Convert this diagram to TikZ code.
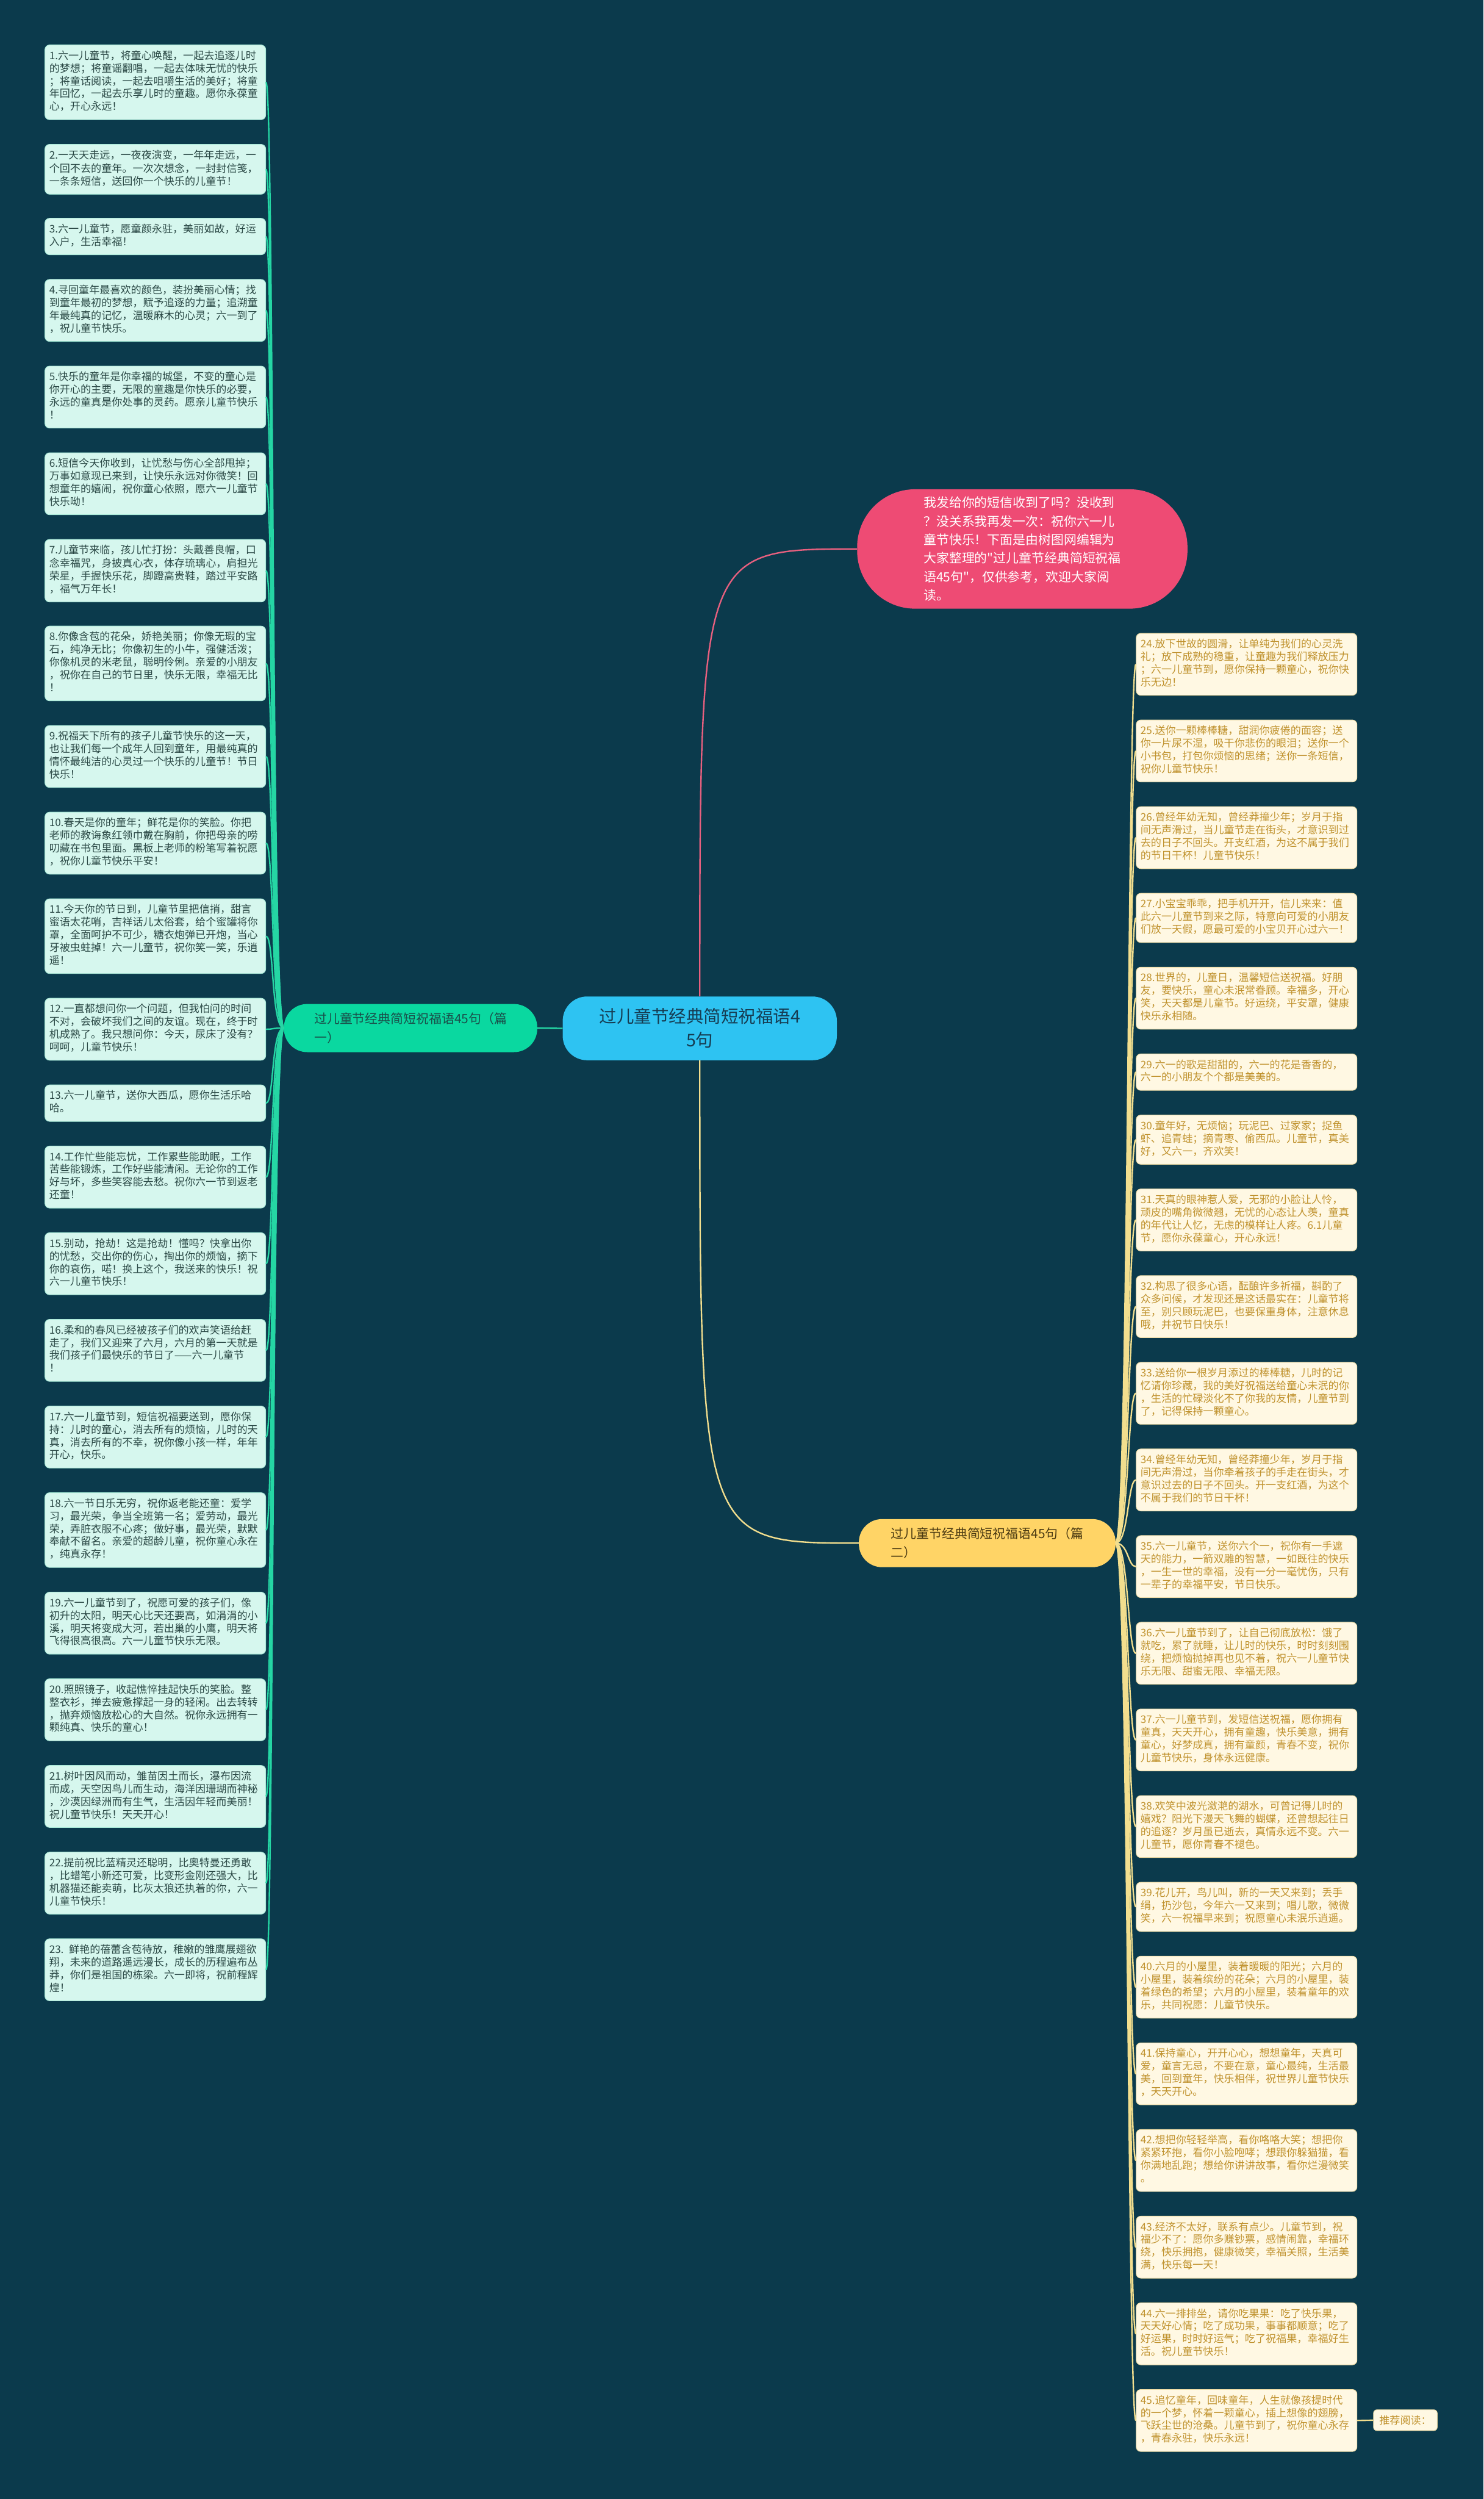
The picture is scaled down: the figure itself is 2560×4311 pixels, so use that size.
\documentclass[tikz,border=0pt]{standalone}
\usepackage{fontspec}
\usepackage{xcolor}
\usepackage{tikz}
\newfontfamily\cjk{Noto Sans CJK SC}
\definecolor{bgcol}{HTML}{0B3A4C}
\definecolor{hubfill}{HTML}{2EC3F2}
\definecolor{hubtext}{HTML}{163C52}
\definecolor{notefill}{HTML}{EE4B74}
\definecolor{notecon}{HTML}{E8607F}
\definecolor{greenfill}{HTML}{0AD8A0}
\definecolor{greentext}{HTML}{1A4F4A}
\definecolor{greencon}{HTML}{25D6A4}
\definecolor{yellowfill}{HTML}{FFD466}
\definecolor{yellowtext}{HTML}{4B3A12}
\definecolor{yellowcon}{HTML}{F2DE8E}
\definecolor{lboxfill}{HTML}{D6F7EE}
\definecolor{lboxline}{HTML}{A6E8D6}
\definecolor{lboxtext}{HTML}{2A4845}
\definecolor{rboxfill}{HTML}{FFF8E3}
\definecolor{rboxline}{HTML}{EEDCA6}
\definecolor{rboxtext}{HTML}{C0922E}

\begin{document}
\begin{tikzpicture}[x=1pt, y=-1pt,
  lbox/.style={anchor=north west, draw=lboxline, fill=lboxfill, line width=1pt,
    rounded corners=8pt, text width=366pt, inner xsep=7.5pt, inner ysep=9.5pt,
    align=left, text=lboxtext, font=\cjk\fontsize{18}{22}\selectfont,
    execute at begin node=\strut, execute at end node=\strut},
  rbox/.style={lbox, draw=rboxline, fill=rboxfill, text=rboxtext},
  hub/.style={fill=hubfill, rounded corners=42pt, minimum width=473pt,
    minimum height=110pt, inner sep=0pt, align=center, text=hubtext,
    font=\cjk\fontsize{30}{41}\selectfont},
  sectionl/.style={fill=greenfill, rounded corners=40pt, minimum width=437pt,
    minimum height=83pt, inner sep=0pt, align=left, text=greentext,
    font=\cjk\fontsize{22}{33}\selectfont},
  sectionr/.style={sectionl, fill=yellowfill, text=yellowtext, minimum width=443pt},
  note/.style={fill=notefill, rounded corners=100pt, minimum width=570pt,
    minimum height=206pt, inner sep=0pt, align=left, text=white,
    font=\cjk\fontsize{22}{32}\selectfont},
  readbox/.style={fill=rboxfill, draw=rboxline, line width=1pt, rounded corners=6pt,
    minimum width=110pt, minimum height=36pt, inner sep=0pt, text=rboxtext,
    font=\cjk\fontsize{18}{22}\selectfont},
  lcon/.style={draw=greencon, line width=2.5pt},
  rcon/.style={draw=yellowcon, line width=2.5pt},
  pcon/.style={draw=notecon, line width=2.5pt},
  ycon/.style={draw=yellowcon, line width=2.5pt}]
  % canvas 2560 x 4311, y runs downwards
  \fill[bgcol] (0,0) rectangle (2560,4311);

  \node[hub] (hub) at (1207.5,1774) {过儿童节经典简短祝福语4\\5句};
  \node[note] (note) at (1764,947) {我发给你的短信收到了吗？没收到\\？没关系我再发一次：祝你六一儿\\童节快乐！下面是由树图网编辑为\\大家整理的"过儿童节经典简短祝福\\语45句"，仅供参考，欢迎大家阅\\读。};
  \node[sectionl] (sec1) at (708.5,1773.5) {过儿童节经典简短祝福语45句（篇\\一）};
  \node[sectionr] (sec2) at (1703.5,2662) {过儿童节经典简短祝福语45句（篇\\二）};

  % left column: box = 22 per line + 19, gap 42.5
  \node[lbox] (l1) at (77,77) {1.六一儿童节，将童心唤醒，一起去追逐儿时\\的梦想；将童谣翻唱，一起去体味无忧的快乐\\；将童话阅读，一起去咀嚼生活的美好；将童\\年回忆，一起去乐享儿时的童趣。愿你永葆童\\心，开心永远！};
  \node[lbox] (l2) at (77,248.5) {2.一天天走远，一夜夜演变，一年年走远，一\\个回不去的童年。一次次想念，一封封信笺，\\一条条短信，送回你一个快乐的儿童节！};
  \node[lbox] (l3) at (77,376) {3.六一儿童节，愿童颜永驻，美丽如故，好运\\入户，生活幸福！};
  \node[lbox] (l4) at (77,481.5) {4.寻回童年最喜欢的颜色，装扮美丽心情；找\\到童年最初的梦想，赋予追逐的力量；追溯童\\年最纯真的记忆，温暖麻木的心灵；六一到了\\，祝儿童节快乐。};
  \node[lbox] (l5) at (77,631) {5.快乐的童年是你幸福的城堡，不变的童心是\\你开心的主要，无限的童趣是你快乐的必要，\\永远的童真是你处事的灵药。愿亲儿童节快乐\\！};
  \node[lbox] (l6) at (77,780.5) {6.短信今天你收到，让忧愁与伤心全部甩掉；\\万事如意现已来到，让快乐永远对你微笑！回\\想童年的嬉闹，祝你童心依照，愿六一儿童节\\快乐呦！};
  \node[lbox] (l7) at (77,930) {7.儿童节来临，孩儿忙打扮：头戴善良帽，口\\念幸福咒，身披真心衣，体存琉璃心，肩担光\\荣星，手握快乐花，脚蹬高贵鞋，踏过平安路\\，福气万年长！};
  \node[lbox] (l8) at (77,1079.5) {8.你像含苞的花朵，娇艳美丽；你像无瑕的宝\\石，纯净无比；你像初生的小牛，强健活泼；\\你像机灵的米老鼠，聪明伶俐。亲爱的小朋友\\，祝你在自己的节日里，快乐无限，幸福无比\\！};
  \node[lbox] (l9) at (77,1251) {9.祝福天下所有的孩子儿童节快乐的这一天，\\也让我们每一个成年人回到童年，用最纯真的\\情怀最纯洁的心灵过一个快乐的儿童节！节日\\快乐！};
  \node[lbox] (l10) at (77,1400.5) {10.春天是你的童年；鲜花是你的笑脸。你把\\老师的教诲象红领巾戴在胸前，你把母亲的唠\\叨藏在书包里面。黑板上老师的粉笔写着祝愿\\，祝你儿童节快乐平安！};
  \node[lbox] (l11) at (77,1550) {11.今天你的节日到，儿童节里把信捎，甜言\\蜜语太花哨，吉祥话儿太俗套，给个蜜罐将你\\罩，全面呵护不可少，糖衣炮弹已开炮，当心\\牙被虫蛀掉！六一儿童节，祝你笑一笑，乐逍\\遥！};
  \node[lbox] (l12) at (77,1721.5) {12.一直都想问你一个问题，但我怕问的时间\\不对，会破坏我们之间的友谊。现在，终于时\\机成熟了。我只想问你：今天，尿床了没有？\\呵呵，儿童节快乐！};
  \node[lbox] (l13) at (77,1871) {13.六一儿童节，送你大西瓜，愿你生活乐哈\\哈。};
  \node[lbox] (l14) at (77,1976.5) {14.工作忙些能忘忧，工作累些能助眠，工作\\苦些能锻炼，工作好些能清闲。无论你的工作\\好与坏，多些笑容能去愁。祝你六一节到返老\\还童！};
  \node[lbox] (l15) at (77,2126) {15.别动，抢劫！这是抢劫！懂吗？快拿出你\\的忧愁，交出你的伤心，掏出你的烦恼，摘下\\你的哀伤，喏！换上这个，我送来的快乐！祝\\六一儿童节快乐！};
  \node[lbox] (l16) at (77,2275.5) {16.柔和的春风已经被孩子们的欢声笑语给赶\\走了，我们又迎来了六月，六月的第一天就是\\我们孩子们最快乐的节日了——六一儿童节\\！};
  \node[lbox] (l17) at (77,2425) {17.六一儿童节到，短信祝福要送到，愿你保\\持：儿时的童心，消去所有的烦恼，儿时的天\\真，消去所有的不幸，祝你像小孩一样，年年\\开心，快乐。};
  \node[lbox] (l18) at (77,2574.5) {18.六一节日乐无穷，祝你返老能还童：爱学\\习，最光荣，争当全班第一名；爱劳动，最光\\荣，弄脏衣服不心疼；做好事，最光荣，默默\\奉献不留名。亲爱的超龄儿童，祝你童心永在\\，纯真永存！};
  \node[lbox] (l19) at (77,2746) {19.六一儿童节到了，祝愿可爱的孩子们，像\\初升的太阳，明天心比天还要高，如涓涓的小\\溪，明天将变成大河，若出巢的小鹰，明天将\\飞得很高很高。六一儿童节快乐无限。};
  \node[lbox] (l20) at (77,2895.5) {20.照照镜子，收起憔悴挂起快乐的笑脸。整\\整衣衫，掸去疲惫撑起一身的轻闲。出去转转\\，抛弃烦恼放松心的大自然。祝你永远拥有一\\颗纯真、快乐的童心！};
  \node[lbox] (l21) at (77,3045) {21.树叶因风而动，雏苗因土而长，瀑布因流\\而成，天空因鸟儿而生动，海洋因珊瑚而神秘\\，沙漠因绿洲而有生气，生活因年轻而美丽！\\祝儿童节快乐！天天开心！};
  \node[lbox] (l22) at (77,3194.5) {22.提前祝比蓝精灵还聪明，比奥特曼还勇敢\\，比蜡笔小新还可爱，比变形金刚还强大，比\\机器猫还能卖萌，比灰太狼还执着的你，六一\\儿童节快乐！};
  \node[lbox] (l23) at (77,3344) {23. 鲜艳的蓓蕾含苞待放，稚嫩的雏鹰展翅欲\\翔，未来的道路遥远漫长，成长的历程遍布丛\\莽，你们是祖国的栋梁。六一即将，祝前程辉\\煌！};

  % right column, same pitch
  \node[rbox] (r24) at (1960,1092) {24.放下世故的圆滑，让单纯为我们的心灵洗\\礼；放下成熟的稳重，让童趣为我们释放压力\\；六一儿童节到，愿你保持一颗童心，祝你快\\乐无边！};
  \node[rbox] (r25) at (1960,1241.5) {25.送你一颗棒棒糖，甜润你疲倦的面容；送\\你一片尿不湿，吸干你悲伤的眼泪；送你一个\\小书包，打包你烦恼的思绪；送你一条短信，\\祝你儿童节快乐！};
  \node[rbox] (r26) at (1960,1391) {26.曾经年幼无知，曾经莽撞少年；岁月于指\\间无声滑过，当儿童节走在街头，才意识到过\\去的日子不回头。开支红酒，为这不属于我们\\的节日干杯！儿童节快乐！};
  \node[rbox] (r27) at (1960,1540.5) {27.小宝宝乖乖，把手机开开，信儿来来：值\\此六一儿童节到来之际，特意向可爱的小朋友\\们放一天假，愿最可爱的小宝贝开心过六一！};
  \node[rbox] (r28) at (1960,1668) {28.世界的，儿童日，温馨短信送祝福。好朋\\友，要快乐，童心未泯常眷顾。幸福多，开心\\笑，天天都是儿童节。好运绕，平安罩，健康\\快乐永相随。};
  \node[rbox] (r29) at (1960,1817.5) {29.六一的歌是甜甜的，六一的花是香香的，\\六一的小朋友个个都是美美的。};
  \node[rbox] (r30) at (1960,1923) {30.童年好，无烦恼；玩泥巴、过家家；捉鱼\\虾、追青蛙；摘青枣、偷西瓜。儿童节，真美\\好，又六一，齐欢笑！};
  \node[rbox] (r31) at (1960,2050.5) {31.天真的眼神惹人爱，无邪的小脸让人怜，\\顽皮的嘴角微微翘，无忧的心态让人羡，童真\\的年代让人忆，无虑的模样让人疼。6.1儿童\\节，愿你永葆童心，开心永远！};
  \node[rbox] (r32) at (1960,2200) {32.构思了很多心语，酝酿许多祈福，斟酌了\\众多问候，才发现还是这话最实在：儿童节将\\至，别只顾玩泥巴，也要保重身体，注意休息\\哦，并祝节日快乐！};
  \node[rbox] (r33) at (1960,2349.5) {33.送给你一根岁月添过的棒棒糖，儿时的记\\忆请你珍藏，我的美好祝福送给童心未泯的你\\，生活的忙碌淡化不了你我的友情，儿童节到\\了，记得保持一颗童心。};
  \node[rbox] (r34) at (1960,2499) {34.曾经年幼无知，曾经莽撞少年，岁月于指\\间无声滑过，当你牵着孩子的手走在街头，才\\意识过去的日子不回头。开一支红酒，为这个\\不属于我们的节日干杯！};
  \node[rbox] (r35) at (1960,2648.5) {35.六一儿童节，送你六个一，祝你有一手遮\\天的能力，一箭双雕的智慧，一如既往的快乐\\，一生一世的幸福，没有一分一毫忧伤，只有\\一辈子的幸福平安，节日快乐。};
  \node[rbox] (r36) at (1960,2798) {36.六一儿童节到了，让自己彻底放松：饿了\\就吃，累了就睡，让儿时的快乐，时时刻刻围\\绕，把烦恼抛掉再也见不着，祝六一儿童节快\\乐无限、甜蜜无限、幸福无限。};
  \node[rbox] (r37) at (1960,2947.5) {37.六一儿童节到，发短信送祝福，愿你拥有\\童真，天天开心，拥有童趣，快乐美意，拥有\\童心，好梦成真，拥有童颜，青春不变，祝你\\儿童节快乐，身体永远健康。};
  \node[rbox] (r38) at (1960,3097) {38.欢笑中波光潋滟的湖水，可曾记得儿时的\\嬉戏？阳光下漫天飞舞的蝴蝶，还曾想起往日\\的追逐？岁月虽已逝去，真情永远不变。六一\\儿童节，愿你青春不褪色。};
  \node[rbox] (r39) at (1960,3246.5) {39.花儿开，鸟儿叫，新的一天又来到；丢手\\绢，扔沙包，今年六一又来到；唱儿歌，微微\\笑，六一祝福早来到；祝愿童心未泯乐逍遥。};
  \node[rbox] (r40) at (1960,3374) {40.六月的小屋里，装着暖暖的阳光；六月的\\小屋里，装着缤纷的花朵；六月的小屋里，装\\着绿色的希望；六月的小屋里，装着童年的欢\\乐，共同祝愿：儿童节快乐。};
  \node[rbox] (r41) at (1960,3523.5) {41.保持童心，开开心心，想想童年，天真可\\爱，童言无忌，不要在意，童心最纯，生活最\\美，回到童年，快乐相伴，祝世界儿童节快乐\\，天天开心。};
  \node[rbox] (r42) at (1960,3673) {42.想把你轻轻举高，看你咯咯大笑；想把你\\紧紧环抱，看你小脸咆哮；想跟你躲猫猫，看\\你满地乱跑；想给你讲讲故事，看你烂漫微笑\\。};
  \node[rbox] (r43) at (1960,3822.5) {43.经济不太好，联系有点少。儿童节到，祝\\福少不了：愿你多赚钞票，感情闹靠，幸福环\\绕，快乐拥抱，健康微笑，幸福关照，生活美\\满，快乐每一天！};
  \node[rbox] (r44) at (1960,3972) {44.六一排排坐，请你吃果果：吃了快乐果，\\天天好心情；吃了成功果，事事都顺意；吃了\\好运果，时时好运气；吃了祝福果，幸福好生\\活。祝儿童节快乐！};
  \node[rbox] (r45) at (1960,4121.5) {45.追忆童年，回味童年，人生就像孩提时代\\的一个梦，怀着一颗童心，插上想像的翅膀，\\飞跃尘世的沧桑。儿童节到了，祝你童心永存\\，青春永驻，快乐永远！};
  \node[readbox] (more) at (2425,4175) {推荐阅读：};

  % connectors
  \draw[pcon] (hub.north) .. controls (hub.north |- note.west) and (hub.north |- note.west) .. (note.west);
  \draw[ycon] (hub.south) .. controls (hub.south |- sec2.west) and (hub.south |- sec2.west) .. (sec2.west);
  \draw[lcon] (hub.west) -- (sec1.east);
  \draw[lcon] (sec1.west) .. controls +(-22,0) and +(14,0) .. (l1.east);
  \draw[lcon] (sec1.west) .. controls +(-22,0) and +(14,0) .. (l2.east);
  \draw[lcon] (sec1.west) .. controls +(-22,0) and +(14,0) .. (l3.east);
  \draw[lcon] (sec1.west) .. controls +(-22,0) and +(14,0) .. (l4.east);
  \draw[lcon] (sec1.west) .. controls +(-22,0) and +(14,0) .. (l5.east);
  \draw[lcon] (sec1.west) .. controls +(-22,0) and +(14,0) .. (l6.east);
  \draw[lcon] (sec1.west) .. controls +(-22,0) and +(14,0) .. (l7.east);
  \draw[lcon] (sec1.west) .. controls +(-22,0) and +(14,0) .. (l8.east);
  \draw[lcon] (sec1.west) .. controls +(-22,0) and +(14,0) .. (l9.east);
  \draw[lcon] (sec1.west) .. controls +(-22,0) and +(14,0) .. (l10.east);
  \draw[lcon] (sec1.west) .. controls +(-22,0) and +(14,0) .. (l11.east);
  \draw[lcon] (sec1.west) .. controls +(-22,0) and +(14,0) .. (l12.east);
  \draw[lcon] (sec1.west) .. controls +(-22,0) and +(14,0) .. (l13.east);
  \draw[lcon] (sec1.west) .. controls +(-22,0) and +(14,0) .. (l14.east);
  \draw[lcon] (sec1.west) .. controls +(-22,0) and +(14,0) .. (l15.east);
  \draw[lcon] (sec1.west) .. controls +(-22,0) and +(14,0) .. (l16.east);
  \draw[lcon] (sec1.west) .. controls +(-22,0) and +(14,0) .. (l17.east);
  \draw[lcon] (sec1.west) .. controls +(-22,0) and +(14,0) .. (l18.east);
  \draw[lcon] (sec1.west) .. controls +(-22,0) and +(14,0) .. (l19.east);
  \draw[lcon] (sec1.west) .. controls +(-22,0) and +(14,0) .. (l20.east);
  \draw[lcon] (sec1.west) .. controls +(-22,0) and +(14,0) .. (l21.east);
  \draw[lcon] (sec1.west) .. controls +(-22,0) and +(14,0) .. (l22.east);
  \draw[lcon] (sec1.west) .. controls +(-22,0) and +(14,0) .. (l23.east);
  \draw[rcon] (sec2.east) .. controls +(22,0) and +(-14,0) .. (r24.west);
  \draw[rcon] (sec2.east) .. controls +(22,0) and +(-14,0) .. (r25.west);
  \draw[rcon] (sec2.east) .. controls +(22,0) and +(-14,0) .. (r26.west);
  \draw[rcon] (sec2.east) .. controls +(22,0) and +(-14,0) .. (r27.west);
  \draw[rcon] (sec2.east) .. controls +(22,0) and +(-14,0) .. (r28.west);
  \draw[rcon] (sec2.east) .. controls +(22,0) and +(-14,0) .. (r29.west);
  \draw[rcon] (sec2.east) .. controls +(22,0) and +(-14,0) .. (r30.west);
  \draw[rcon] (sec2.east) .. controls +(22,0) and +(-14,0) .. (r31.west);
  \draw[rcon] (sec2.east) .. controls +(22,0) and +(-14,0) .. (r32.west);
  \draw[rcon] (sec2.east) .. controls +(22,0) and +(-14,0) .. (r33.west);
  \draw[rcon] (sec2.east) .. controls +(22,0) and +(-14,0) .. (r34.west);
  \draw[rcon] (sec2.east) .. controls +(22,0) and +(-14,0) .. (r35.west);
  \draw[rcon] (sec2.east) .. controls +(22,0) and +(-14,0) .. (r36.west);
  \draw[rcon] (sec2.east) .. controls +(22,0) and +(-14,0) .. (r37.west);
  \draw[rcon] (sec2.east) .. controls +(22,0) and +(-14,0) .. (r38.west);
  \draw[rcon] (sec2.east) .. controls +(22,0) and +(-14,0) .. (r39.west);
  \draw[rcon] (sec2.east) .. controls +(22,0) and +(-14,0) .. (r40.west);
  \draw[rcon] (sec2.east) .. controls +(22,0) and +(-14,0) .. (r41.west);
  \draw[rcon] (sec2.east) .. controls +(22,0) and +(-14,0) .. (r42.west);
  \draw[rcon] (sec2.east) .. controls +(22,0) and +(-14,0) .. (r43.west);
  \draw[rcon] (sec2.east) .. controls +(22,0) and +(-14,0) .. (r44.west);
  \draw[rcon] (sec2.east) .. controls +(22,0) and +(-14,0) .. (r45.west);
  \draw[rcon] (r45.east) -- (more.west);
\end{tikzpicture}
\end{document}
